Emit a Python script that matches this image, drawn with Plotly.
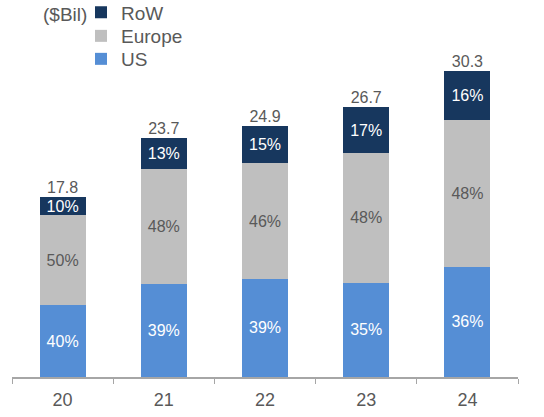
import plotly.graph_objects as go

years = ["20", "21", "22", "23", "24"]
totals = [17.8, 23.7, 24.9, 26.7, 30.3]
us_pct = [40, 39, 39, 35, 36]
europe_pct = [50, 48, 46, 48, 48]
row_pct = [10, 13, 15, 17, 16]

US_C = "#558ED5"
EU_C = "#BFBFBF"
ROW_C = "#17375E"
TXT = "#595959"
FONT = "Liberation Sans"

W = 544
H = 417
T = 40      # plot top
B = 40      # plot bottom at px 377
L = 12
R = 26
PH = H - T - B
PW = W - L - R


def vals(pcts):
    return [t * p / 100 for t, p in zip(totals, pcts)]


def ypaper(px):
    return 1 + (T - px) / PH


def xpaper(px):
    return (px - L) / PW


series = [
    ("US", us_pct, US_C, "white", "legend3"),
    ("Europe", europe_pct, EU_C, TXT, "legend2"),
    ("RoW", row_pct, ROW_C, "white", "legend"),
]

fig = go.Figure()
for name, pcts, color, tcol, lg in series:
    fig.add_trace(go.Bar(
        x=years, y=vals(pcts), name=name, legend=lg,
        marker=dict(color=color, line=dict(width=0)),
        text=[f"{p}%" for p in pcts],
        textposition="inside", insidetextanchor="middle",
        textangle=0, constraintext="none",
        textfont=dict(color=tcol, size=16, family=FONT),
        hoverinfo="skip",
    ))

fig.add_trace(go.Scatter(
    x=years, y=totals, mode="text",
    text=[f"{t:.1f}" for t in totals],
    textposition="top center",
    textfont=dict(color=TXT, size=16, family=FONT),
    showlegend=False, hoverinfo="skip",
))

leg_common = dict(
    x=xpaper(81), xanchor="left", yanchor="middle",
    font=dict(size=19, color=TXT, family=FONT),
    bgcolor="rgba(0,0,0,0)", borderwidth=0,
)

fig.update_layout(
    width=W, height=H,
    margin=dict(l=L, r=R, t=T, b=B, autoexpand=False),
    barmode="stack", bargap=0.545,
    paper_bgcolor="white", plot_bgcolor="white",
    font=dict(family=FONT, color=TXT, size=18),
    showlegend=True,
    legend=dict(y=ypaper(12.5), **leg_common),
    legend2=dict(y=ypaper(36), **leg_common),
    legend3=dict(y=ypaper(59), **leg_common),
    xaxis=dict(
        type="category", showgrid=False, zeroline=False,
        showline=True, linecolor="#A6A6A6", linewidth=1.5,
        ticks="outside", tickson="boundaries", ticklen=5,
        tickcolor="#A6A6A6", tickwidth=1,
        ticklabelstandoff=6,
        tickfont=dict(size=18, color=TXT, family=FONT),
    ),
    yaxis=dict(
        range=[0, 33.37], showgrid=False, zeroline=False,
        showline=False, showticklabels=False, ticks="",
    ),
    annotations=[dict(
        text="($Bil)", xref="paper", yref="paper",
        x=xpaper(41), y=ypaper(14.5), xanchor="left", yanchor="middle",
        showarrow=False, font=dict(size=19, color=TXT, family=FONT),
    )],
)

fig.write_html(
    "out.html",
    config={"displayModeBar": False, "staticPlot": True},
    post_script="document.body.style.margin='0';document.body.style.overflow='hidden';",
)
